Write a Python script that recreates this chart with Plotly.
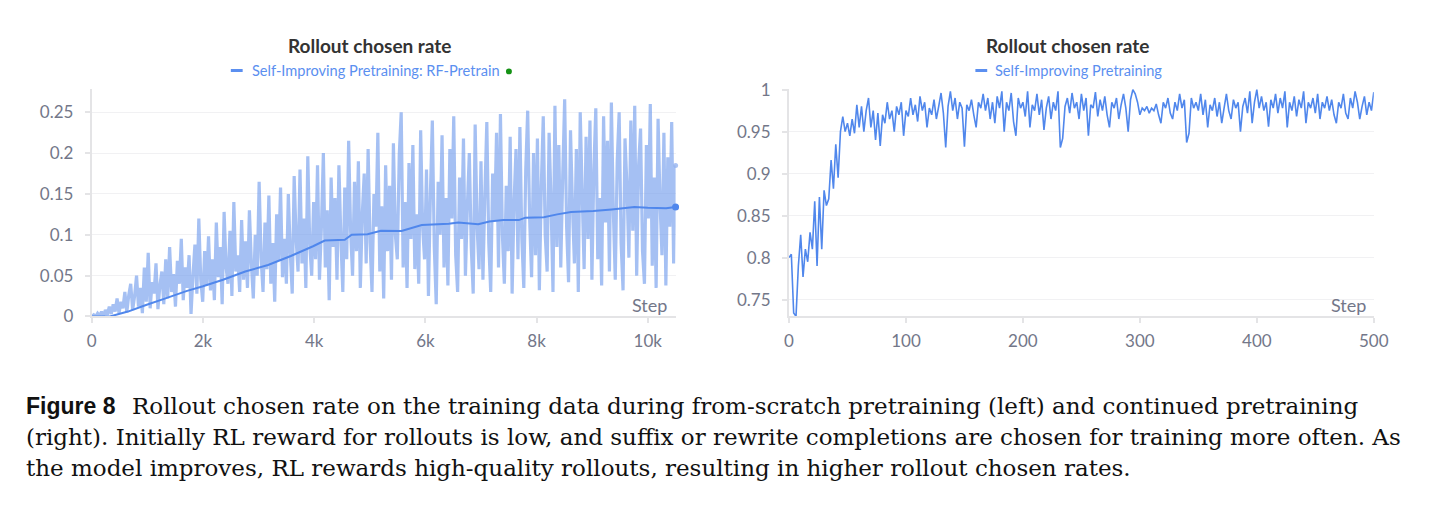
import plotly.graph_objects as go

W, H = 1445, 509

# ---------------- data ----------------
# Left: from-scratch pretraining, raw rollout chosen rate (read every ~35 steps)
left_raw_steps = list(range(0, 10501, 35))
left_raw = [
    0.000, 0.002, 0.000, 0.004, 0.001, 0.006, 0.000, 0.008, 0.002, 0.012, 0.003, 0.015, 0.006, 0.022, 0.004, 0.018, 0.010, 0.030, 0.005, 0.026,
    0.040, 0.008, 0.025, 0.050, 0.012, 0.035, 0.004, 0.060, 0.018, 0.078, 0.010, 0.042, 0.028, 0.065, 0.009, 0.038, 0.055, 0.015, 0.070, 0.022,
    0.085, 0.030, 0.052, 0.012, 0.068, 0.040, 0.095, 0.020, 0.060, 0.035, 0.075, 0.003, 0.050, 0.088, 0.028, 0.120, 0.045, 0.018, 0.080, 0.038,
    0.098, 0.032, 0.070, 0.020, 0.115, 0.048, 0.085, 0.015, 0.128, 0.060, 0.040, 0.105, 0.025, 0.140, 0.055, 0.075, 0.030, 0.118, 0.045, 0.092,
    0.035, 0.130, 0.065, 0.022, 0.100, 0.050, 0.165, 0.072, 0.030, 0.115, 0.058, 0.148, 0.040, 0.090, 0.018, 0.125, 0.068, 0.158, 0.048, 0.095,
    0.040, 0.150, 0.078, 0.028, 0.172, 0.095, 0.055, 0.180, 0.065, 0.120, 0.035, 0.196, 0.088, 0.050, 0.140, 0.070, 0.185, 0.045, 0.110, 0.200,
    0.060, 0.130, 0.020, 0.170, 0.085, 0.145, 0.045, 0.185, 0.095, 0.030, 0.158, 0.070, 0.215, 0.105, 0.050, 0.165, 0.080, 0.190, 0.035, 0.125,
    0.175, 0.065, 0.205, 0.090, 0.030, 0.150, 0.110, 0.225, 0.055, 0.135, 0.022, 0.185, 0.080, 0.160, 0.045, 0.212, 0.100, 0.070, 0.198, 0.250,
    0.060, 0.140, 0.035, 0.188, 0.095, 0.210, 0.058, 0.125, 0.040, 0.228, 0.110, 0.070, 0.180, 0.025, 0.150, 0.240, 0.085, 0.015, 0.165, 0.100,
    0.222, 0.060, 0.145, 0.038, 0.205, 0.120, 0.245, 0.075, 0.030, 0.170, 0.095, 0.218, 0.050, 0.135, 0.200, 0.085, 0.028, 0.235, 0.110, 0.058,
    0.190, 0.045, 0.150, 0.238, 0.090, 0.030, 0.175, 0.118, 0.225, 0.060, 0.248, 0.100, 0.040, 0.160, 0.080, 0.220, 0.028, 0.140, 0.205, 0.070,
    0.232, 0.095, 0.035, 0.180, 0.252, 0.120, 0.048, 0.200, 0.075, 0.218, 0.032, 0.160, 0.245, 0.100, 0.055, 0.225, 0.140, 0.030, 0.258, 0.085,
    0.210, 0.060, 0.172, 0.266, 0.110, 0.042, 0.228, 0.135, 0.065, 0.205, 0.030, 0.250, 0.150, 0.058, 0.220, 0.095, 0.240, 0.045, 0.180, 0.255,
    0.070, 0.145, 0.038, 0.245, 0.115, 0.215, 0.055, 0.262, 0.130, 0.045, 0.190, 0.250, 0.090, 0.032, 0.218, 0.160, 0.072, 0.240, 0.105, 0.258,
    0.050, 0.185, 0.230, 0.080, 0.040, 0.210, 0.120, 0.260, 0.062, 0.170, 0.035, 0.242, 0.140, 0.075, 0.225, 0.038, 0.195, 0.110, 0.238, 0.065,
    0.185,
]

# Left: smoothed curve
left_smooth_steps = [0, 325, 650, 975, 1300, 1700, 2000, 2360, 2760, 3170, 3580, 3980, 4190, 4550, 4675,
                     4960, 5200, 5570, 5935, 6420, 6590, 6950, 7150, 7400, 7680, 7800, 8130, 8370, 8620,
                     9020, 9350, 9760, 10000, 10330, 10500]
left_smooth = [0.000, 0.000, 0.006, 0.014, 0.0215, 0.031, 0.037, 0.045, 0.055, 0.063, 0.074, 0.086, 0.093, 0.094, 0.100,
               0.1007, 0.105, 0.1046, 0.112, 0.1136, 0.115, 0.113, 0.1164, 0.118, 0.118, 0.121, 0.1215, 0.125, 0.128,
               0.129, 0.131, 0.134, 0.133, 0.1325, 0.134]

# Right: continued pretraining (every 2 steps)
right_steps = list(range(0, 501, 2))
right_vals = [
    0.800, 0.804, 0.734, 0.730, 0.790, 0.827, 0.777, 0.810, 0.795, 0.830,
    0.810, 0.867, 0.790, 0.872, 0.810, 0.880, 0.862, 0.870, 0.916, 0.882,
    0.935, 0.895, 0.950, 0.968, 0.950, 0.960, 0.945, 0.965, 0.948, 0.982,
    0.955, 0.980, 0.950, 0.975, 0.990, 0.955, 0.975, 0.940, 0.972, 0.933,
    0.970, 0.960, 0.985, 0.965, 0.975, 0.950, 0.980, 0.970, 0.985, 0.945,
    0.975, 0.968, 0.990, 0.970, 0.982, 0.962, 0.992, 0.975, 0.985, 0.955,
    0.978, 0.970, 0.988, 0.965, 0.980, 0.996, 0.972, 0.931, 0.980, 0.998,
    0.975, 0.990, 0.965, 0.985, 0.978, 0.932, 0.982, 0.975, 0.988, 0.970,
    0.955, 0.985, 0.978, 0.995, 0.975, 0.990, 0.965, 0.985, 0.960, 0.992,
    0.978, 0.998, 0.950, 0.985, 0.975, 0.996, 0.962, 0.945, 0.990, 0.978,
    0.985, 0.968, 0.998, 0.955, 0.982, 0.975, 0.995, 0.970, 0.988, 0.952,
    0.978, 0.992, 0.965, 0.985, 0.975, 0.998, 0.931, 0.942, 0.980, 0.990,
    0.972, 0.996, 0.978, 0.985, 0.965, 0.995, 0.975, 0.990, 0.945, 0.982,
    0.978, 0.997, 0.968, 0.988, 0.975, 0.992, 0.970, 0.955, 0.985, 0.978,
    0.990, 0.965, 0.982, 0.995, 0.978, 0.950, 0.988, 1.000, 0.995, 0.985,
    0.970, 0.978, 0.975, 0.980, 0.972, 0.978, 0.975, 0.983, 0.970, 0.960,
    0.985, 0.978, 0.990, 0.972, 0.965, 0.985, 0.975, 0.995, 0.978, 0.988,
    0.937, 0.948, 0.990, 0.978, 0.985, 0.975, 0.995, 0.970, 0.988, 0.955,
    0.982, 0.975, 0.990, 0.968, 0.985, 0.960, 0.978, 0.995, 0.975, 0.965,
    0.988, 0.978, 0.985, 0.950, 0.980, 0.990, 0.972, 0.998, 0.960, 0.985,
    1.000, 0.978, 0.992, 0.975, 0.985, 0.956, 0.988, 0.978, 0.995, 0.972,
    0.990, 0.978, 0.998, 0.955, 0.985, 0.975, 0.992, 0.968, 0.988, 0.978,
    0.998, 0.960, 0.985, 0.978, 0.990, 0.972, 0.995, 0.965, 0.985, 0.978,
    0.992, 0.975, 0.988, 0.970, 0.960, 0.985, 0.978, 0.995, 0.972, 0.965,
    0.990, 0.978, 0.998, 0.985, 0.965, 0.980, 0.992, 0.970, 0.985, 0.975,
    0.997,
]

left_x_ticks = [0, 2000, 4000, 6000, 8000, 10000]
left_x_labels = ["0", "2k", "4k", "6k", "8k", "10k"]
left_y_ticks = [0, 0.05, 0.1, 0.15, 0.2, 0.25]
left_y_labels = ["0", "0.05", "0.1", "0.15", "0.2", "0.25"]
right_x_ticks = [0, 100, 200, 300, 400, 500]
right_y_ticks = [0.75, 0.8, 0.85, 0.9, 0.95, 1.0]
right_y_labels = ["0.75", "0.8", "0.85", "0.9", "0.95", "1"]

title_text = "Rollout chosen rate"
left_legend = "Self-Improving Pretraining: RF-Pretrain"
right_legend = "Self-Improving Pretraining"
caption_label = "Figure 8"
caption_lines = [
    "Rollout chosen rate on the training data during from-scratch pretraining (left) and continued pretraining",
    "(right). Initially RL reward for rollouts is low, and suffix or rewrite completions are chosen for training more often. As",
    "the model improves, RL rewards high-quality rollouts, resulting in higher rollout chosen rates.",
]

# ---------------- style ----------------
BLUE = "#5087EC"
RAW = "rgba(110,154,236,0.62)"
LEG_BLUE = "#5B8FF0"
TICK_C = "#737789"
AX_C = "#e4e4e6"
GRID_C = "#f1f1f3"
FONT = "Lato"


def px(x):
    return x / W


def py(y):
    return 1 - y / H


fig = go.Figure()

fig.add_trace(go.Scatter(x=left_raw_steps, y=left_raw, mode="lines",
                         line=dict(color=RAW, width=3.2, simplify=False), xaxis="x", yaxis="y",
                         hoverinfo="skip", showlegend=False))
fig.add_trace(go.Scatter(x=left_smooth_steps, y=left_smooth, mode="lines",
                         line=dict(color=BLUE, width=2, simplify=False), xaxis="x", yaxis="y",
                         showlegend=False))
fig.add_trace(go.Scatter(x=[left_raw_steps[-1]], y=[left_raw[-1]], mode="markers",
                         marker=dict(color="rgba(150,180,240,0.8)", size=5), xaxis="x", yaxis="y",
                         showlegend=False, cliponaxis=False))
fig.add_trace(go.Scatter(x=[left_smooth_steps[-1]], y=[left_smooth[-1]], mode="markers",
                         marker=dict(color=BLUE, size=7), xaxis="x", yaxis="y",
                         showlegend=False, cliponaxis=False))
fig.add_trace(go.Scatter(x=right_steps, y=right_vals, mode="lines",
                         line=dict(color=BLUE, width=1.6, simplify=False), xaxis="x2", yaxis="y2",
                         showlegend=False, cliponaxis=False))

ydom = [py(319), py(82)]
axis_common = dict(showline=True, linecolor=AX_C, linewidth=2, ticks="outside",
                   ticklen=5, tickcolor=AX_C, tickwidth=1.5, zeroline=False,
                   tickfont=dict(family=FONT, size=17, color=TICK_C))

fig.update_layout(
    width=W, height=H, margin=dict(l=0, r=0, t=0, b=0),
    paper_bgcolor="white", plot_bgcolor="white", showlegend=False,
    xaxis=dict(domain=[px(88), px(680)], range=[0, 10500], tickvals=left_x_ticks,
               ticktext=left_x_labels, showgrid=False, anchor="y", ticklabelstandoff=3, **axis_common),
    yaxis=dict(domain=ydom, range=[0, 0.2788], tickvals=left_y_ticks, ticktext=left_y_labels,
               showgrid=True, gridcolor=GRID_C, anchor="x", ticklabelstandoff=8, **axis_common),
    xaxis2=dict(domain=[px(795), px(1388)], range=[0, 500], tickvals=right_x_ticks,
                showgrid=False, anchor="y2", ticklabelstandoff=3, **axis_common),
    yaxis2=dict(domain=ydom, range=[0.7299, 1.001], tickvals=right_y_ticks, ticktext=right_y_labels,
                showgrid=True, gridcolor=GRID_C, anchor="x2", ticklabelstandoff=8, **axis_common),
)

ann = []
for cx in (370, 1078):
    ann.append(dict(x=px(cx), y=py(37), xref="paper", yref="paper", text="<b>" + title_text + "</b>",
                    showarrow=False, xanchor="center", yanchor="middle",
                    font=dict(family=FONT, size=19, color="#333333")))
ann.append(dict(x=px(248), y=py(63), xref="paper", yref="paper", text=left_legend, showarrow=False,
                xanchor="left", yanchor="middle", font=dict(family=FONT, size=14.6, color=LEG_BLUE)))
ann.append(dict(x=px(1002), y=py(63), xref="paper", yref="paper", text=right_legend, showarrow=False,
                xanchor="left", yanchor="middle", font=dict(family=FONT, size=14.6, color=LEG_BLUE)))
for rx in (673, 1382):
    ann.append(dict(x=px(rx), y=py(307), xref="paper", yref="paper", text="Step", showarrow=False,
                    xanchor="right", yanchor="middle", font=dict(family=FONT, size=18, color=TICK_C)))

# caption
ann.append(dict(x=px(19), y=py(412), xref="paper", yref="paper", text="<b>" + caption_label + "</b>",
                showarrow=False, xanchor="left", yanchor="middle",
                font=dict(family="Liberation Sans", size=23, color="#111111")))
cap_y = [412, 444, 477]
cap_x = [127, 19, 19]
for t, yy, xx in zip(caption_lines, cap_y, cap_x):
    ann.append(dict(x=px(xx), y=py(yy), xref="paper", yref="paper", text=t, showarrow=False,
                    xanchor="left", yanchor="middle",
                    font=dict(family="DejaVu Serif", size=23, color="#111111")))

shapes = [
    dict(type="line", xref="paper", yref="paper", x0=px(229), x1=px(241), y0=py(63), y1=py(63),
         line=dict(color=LEG_BLUE, width=3)),
    dict(type="line", xref="paper", yref="paper", x0=px(984), x1=px(996), y0=py(63), y1=py(63),
         line=dict(color=LEG_BLUE, width=3)),
    dict(type="circle", xref="paper", yref="paper", x0=px(508), x1=px(514), y0=py(67), y1=py(61),
         fillcolor="#159215", line=dict(width=0)),
]

fig.update_layout(annotations=ann, shapes=shapes)
fig.write_html("out.html")
